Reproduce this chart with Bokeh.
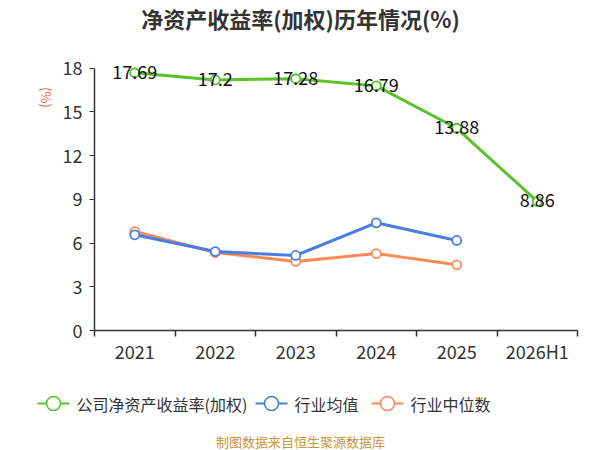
from bokeh.plotting import figure
from bokeh.models import Range1d, FixedTicker, LinearAxis, ColumnDataSource
from bokeh.layouts import column, row
from bokeh.core.properties import value
from bokeh.embed import file_html
from bokeh.resources import INLINE

categories = ["2021", "2022", "2023", "2024", "2025", "2026H1"]
company_roe = [17.69, 17.2, 17.28, 16.79, 13.88, 8.86]
industry_avg = [6.57, 5.42, 5.15, 7.39, 6.18]
industry_median = [6.79, 5.35, 4.74, 5.28, 4.51]
y_ticks = [0, 3, 6, 9, 12, 15, 18]

title_text = "净资产收益率(加权)历年情况(%)"
unit_text = "(%)"
source_text = "制图数据来自恒生聚源数据库"
series_names = ["公司净资产收益率(加权)", "行业均值", "行业中位数"]

GREEN = "#5ac12a"
BLUE = "#4a7de0"
ORANGE = "#ff8a55"
FONT = "Noto Sans CJK SC"

xs = [i + 0.5 for i in range(len(categories))]


def strip(w, h):
    f = figure(width=w, height=h, output_backend="svg", toolbar_location=None,
               x_range=Range1d(0, w), y_range=Range1d(h, 0), min_border=0,
               x_axis_type=None, y_axis_type=None, frame_align=False)
    f.outline_line_color = None
    f.xgrid.visible = False
    f.ygrid.visible = False
    f.border_fill_color = "white"
    return f


# ---------------- title strip ----------------
t = strip(600, 40)
t.text([300], [17], text=[title_text], text_align="center", text_baseline="middle",
       text_font=value(FONT), text_font_size="22px", text_font_style="bold", text_color="#333333")

# ---------------- unit strip (left of chart) ----------------
u = strip(56, 335)
u.text([46], [57], text=[unit_text], angle=-1.5708, text_align="center", text_baseline="middle",
       text_font=value(FONT), text_font_size="13px", text_color="#e8653a")

# ---------------- main chart ----------------
p = figure(width=544, height=335, output_backend="svg", toolbar_location=None,
           x_range=Range1d(0, len(categories)), y_range=Range1d(0, 18.6),
           min_border_left=38, min_border_right=23, min_border_top=19, min_border_bottom=45,
           x_axis_type=None, y_axis_type=None)
p.outline_line_color = None
p.background_fill_color = "white"
p.border_fill_color = "white"

yaxis = LinearAxis(ticker=FixedTicker(ticks=y_ticks), bounds=(0, 18))
yaxis.axis_line_color = "#333333"
yaxis.axis_line_width = 1.5
yaxis.major_tick_line_color = "#333333"
yaxis.major_tick_out = 5
yaxis.major_tick_in = 0
yaxis.minor_tick_line_color = None
yaxis.major_label_text_font_size = "18px"
yaxis.major_label_text_color = "#333333"
yaxis.major_label_text_font = FONT
yaxis.major_label_standoff = 7
p.add_layout(yaxis, "left")

xaxis = LinearAxis(ticker=FixedTicker(ticks=xs, minor_ticks=list(range(len(categories) + 1))))
xaxis.major_label_overrides = {x: c for x, c in zip(xs, categories)}
xaxis.axis_line_color = "#333333"
xaxis.axis_line_width = 1.5
xaxis.major_tick_line_color = None
xaxis.major_tick_out = 0
xaxis.major_tick_in = 0
xaxis.minor_tick_line_color = "#333333"
xaxis.minor_tick_line_width = 1.5
xaxis.minor_tick_out = 6
xaxis.minor_tick_in = 0
xaxis.major_label_text_font_size = "18px"
xaxis.major_label_text_color = "#333333"
xaxis.major_label_text_font = FONT
xaxis.major_label_standoff = 1
p.add_layout(xaxis, "below")

p.ygrid.ticker = FixedTicker(ticks=y_ticks[1:])
p.ygrid.grid_line_color = "#cccccc"
p.ygrid.grid_line_dash = "5 4"
p.ygrid.grid_line_width = 1.2
p.xgrid.visible = False

n_ind = len(industry_avg)
p.line(xs[:n_ind], industry_median, line_color=ORANGE, line_width=3)
p.scatter(xs[:n_ind], industry_median, size=9, fill_color="white", line_color=ORANGE, line_width=1.8)
p.line(xs[:n_ind], industry_avg, line_color=BLUE, line_width=3)
p.scatter(xs[:n_ind], industry_avg, size=9, fill_color="white", line_color=BLUE, line_width=1.8)
p.line(xs, company_roe, line_color=GREEN, line_width=3)
p.scatter(xs, company_roe, size=9, fill_color="white", line_color=GREEN, line_width=1.8)

src = ColumnDataSource(dict(x=xs, y=company_roe, t=[f"{v:g}" for v in company_roe]))
p.text("x", "y", text="t", source=src, text_align="center", text_baseline="middle",
       text_font=value(FONT), text_font_size="18px", text_color="#111111", y_offset=-1)

# ---------------- legend + source strip ----------------
q = strip(600, 75)
legend_colors = [GREEN, BLUE, ORANGE]
legend_x0 = [37, 255, 371]      # left edge of each legend symbol (px)
sym_w = 32
row_y = 28
for name, col, x0 in zip(series_names, legend_colors, legend_x0):
    q.line([x0, x0 + sym_w], [row_y, row_y], line_color=col, line_width=2)
    q.scatter([x0 + sym_w / 2], [row_y], size=14, fill_color="white", line_color=col, line_width=1.6)
    q.text([x0 + sym_w + 7], [row_y], text=[name], text_align="left", text_baseline="middle",
           text_font=value(FONT), text_font_size="16px", text_color="#333333")

q.text([300], [66], text=[source_text], text_align="center", text_baseline="middle",
       text_font=value(FONT), text_font_size="13px", text_color="#c8963c")

layout = column(t, row(u, p, spacing=0), q, spacing=0)
open("out.html", "w").write(file_html(layout, INLINE))
